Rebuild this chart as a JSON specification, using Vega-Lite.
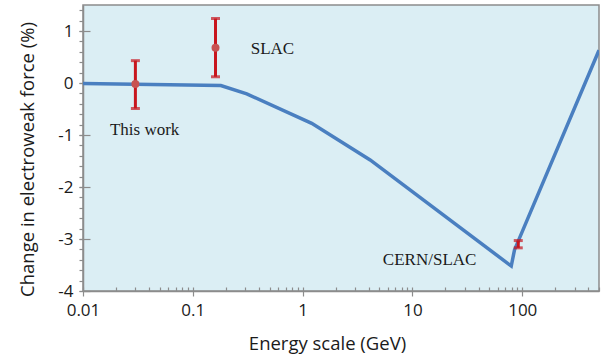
{
  "$schema": "https://vega.github.io/schema/vega-lite/v6.json",
  "width": 516,
  "height": 286,
  "autosize": {"type": "none"},
  "padding": {"left": 83, "top": 5, "right": 12, "bottom": 67},
  "background": "white",
  "config": {
    "view": {"fill": "#dbeef4", "stroke": "#8c8c8c", "strokeWidth": 1.5},
    "axis": {"domainColor": "#8c8c8c", "tickColor": "#8c8c8c", "domainWidth": 1.5, "tickWidth": 1.2, "grid": false, "labelFont": "Open Sans", "labelFontSize": 17, "labelColor": "#1a1a1a", "titleFont": "Open Sans", "titleFontSize": 18.5, "titleFontWeight": "normal", "titleColor": "#1a1a1a"}
  },
  "datasets": {
    "curve": [
      {"energy": 0.01, "change": -0.01},
      {"energy": 0.18, "change": -0.05},
      {"energy": 0.31, "change": -0.21},
      {"energy": 1.21, "change": -0.775},
      {"energy": 4.12, "change": -1.48},
      {"energy": 79.4, "change": -3.52},
      {"energy": 85, "change": -3.21},
      {"energy": 500, "change": 0.63}
    ],
    "measurements": [
      {"energy": 0.03, "change": -0.02, "low": -0.49, "high": 0.43},
      {"energy": 0.161, "change": 0.68, "low": 0.12, "high": 1.24},
      {"energy": 92, "change": -3.1, "low": -3.17, "high": -3.03}
    ],
    "labels": [
      {"energy": 0.0176, "change": -1.0, "text": "This work"},
      {"energy": 0.337, "change": 0.55, "text": "SLAC"},
      {"energy": 5.38, "change": -3.5, "text": "CERN/SLAC"}
    ]
  },
  "layer": [
    {
      "data": {"name": "curve"},
      "mark": {"type": "line", "color": "#4a7fc0", "strokeWidth": 3.5, "clip": true},
      "encoding": {
        "x": {"field": "energy", "type": "quantitative", "scale": {"type": "log", "domain": [0.01, 500], "nice": false}, "axis": {"orient": "bottom", "values": [0.01, 0.1, 1, 10, 100], "labelExpr": "'' + datum.value", "tickSize": 5, "labelPadding": 6, "labelFlush": false, "labelOverlap": false, "title": "Energy scale (GeV)", "titleX": 244, "titleY": 58, "titleBaseline": "alphabetic", "titleAnchor": null, "titleAlign": "center"}},
        "y": {"field": "change", "type": "quantitative", "scale": {"domain": [-4, 1.5], "nice": false, "zero": false}, "axis": {"orient": "left", "values": [-4, -3, -2, -1, 0, 1], "labelExpr": "'' + datum.value", "tickSize": 4, "labelPadding": 6, "labelFlush": false, "title": "Change in electroweak force (%)", "titleX": -56, "titleY": 154, "titleBaseline": "middle", "titleAngle": -90, "titleAlign": "center"}}
      }
    },
    {
      "data": {"name": "measurements"},
      "mark": {"type": "rule", "color": "#c8161e", "strokeWidth": 3},
      "encoding": {
        "x": {"field": "energy", "type": "quantitative", "axis": {"orient": "bottom", "values": [0.01,0.02,0.03,0.04,0.05,0.06,0.07,0.08,0.09,0.1,0.2,0.3,0.4,0.5,0.6,0.7,0.8,0.9,1,2,3,4,5,6,7,8,9,10,20,30,40,50,60,70,80,90,100,200,300,400,500], "tickSize": -4, "labels": false, "domain": false, "title": null}},
        "y": {"field": "low", "type": "quantitative", "axis": {"orient": "left", "values": [-4,-3.8,-3.6,-3.4,-3.2,-3,-2.8,-2.6,-2.4,-2.2,-2,-1.8,-1.6,-1.4,-1.2,-1,-0.8,-0.6,-0.4,-0.2,0,0.2,0.4,0.6,0.8,1,1.2,1.4], "tickSize": 4, "labels": false, "domain": false, "title": null}},
        "y2": {"field": "high"}
      }
    },
    {
      "data": {"name": "measurements"},
      "mark": {"type": "tick", "orient": "horizontal", "color": "#c8161e", "size": 9, "thickness": 3},
      "encoding": {
        "x": {"field": "energy", "type": "quantitative", "axis": null},
        "y": {"field": "low", "type": "quantitative", "axis": {"orient": "left", "values": [-4, -3, -2, -1, 0, 1], "tickSize": -7, "labels": false, "domain": false, "title": null}}
      }
    },
    {
      "data": {"name": "measurements"},
      "mark": {"type": "tick", "orient": "horizontal", "color": "#c8161e", "size": 9, "thickness": 3},
      "encoding": {
        "x": {"field": "energy", "type": "quantitative", "axis": null},
        "y": {"field": "high", "type": "quantitative", "axis": null}
      }
    },
    {
      "data": {"name": "measurements"},
      "transform": [{"filter": "datum.energy < 50"}],
      "mark": {"type": "circle", "color": "#c85252", "opacity": 1, "size": 64},
      "encoding": {
        "x": {"field": "energy", "type": "quantitative", "axis": null},
        "y": {"field": "change", "type": "quantitative", "axis": null}
      }
    },
    {
      "data": {"name": "labels"},
      "mark": {"type": "text", "font": "Liberation Serif", "fontSize": 17, "color": "#1a1a1a", "align": "left", "baseline": "alphabetic"},
      "encoding": {
        "x": {"field": "energy", "type": "quantitative", "axis": null},
        "y": {"field": "change", "type": "quantitative", "axis": null},
        "text": {"field": "text"}
      }
    }
  ],
  "resolve": {"axis": {"x": "independent", "y": "independent"}}
}
